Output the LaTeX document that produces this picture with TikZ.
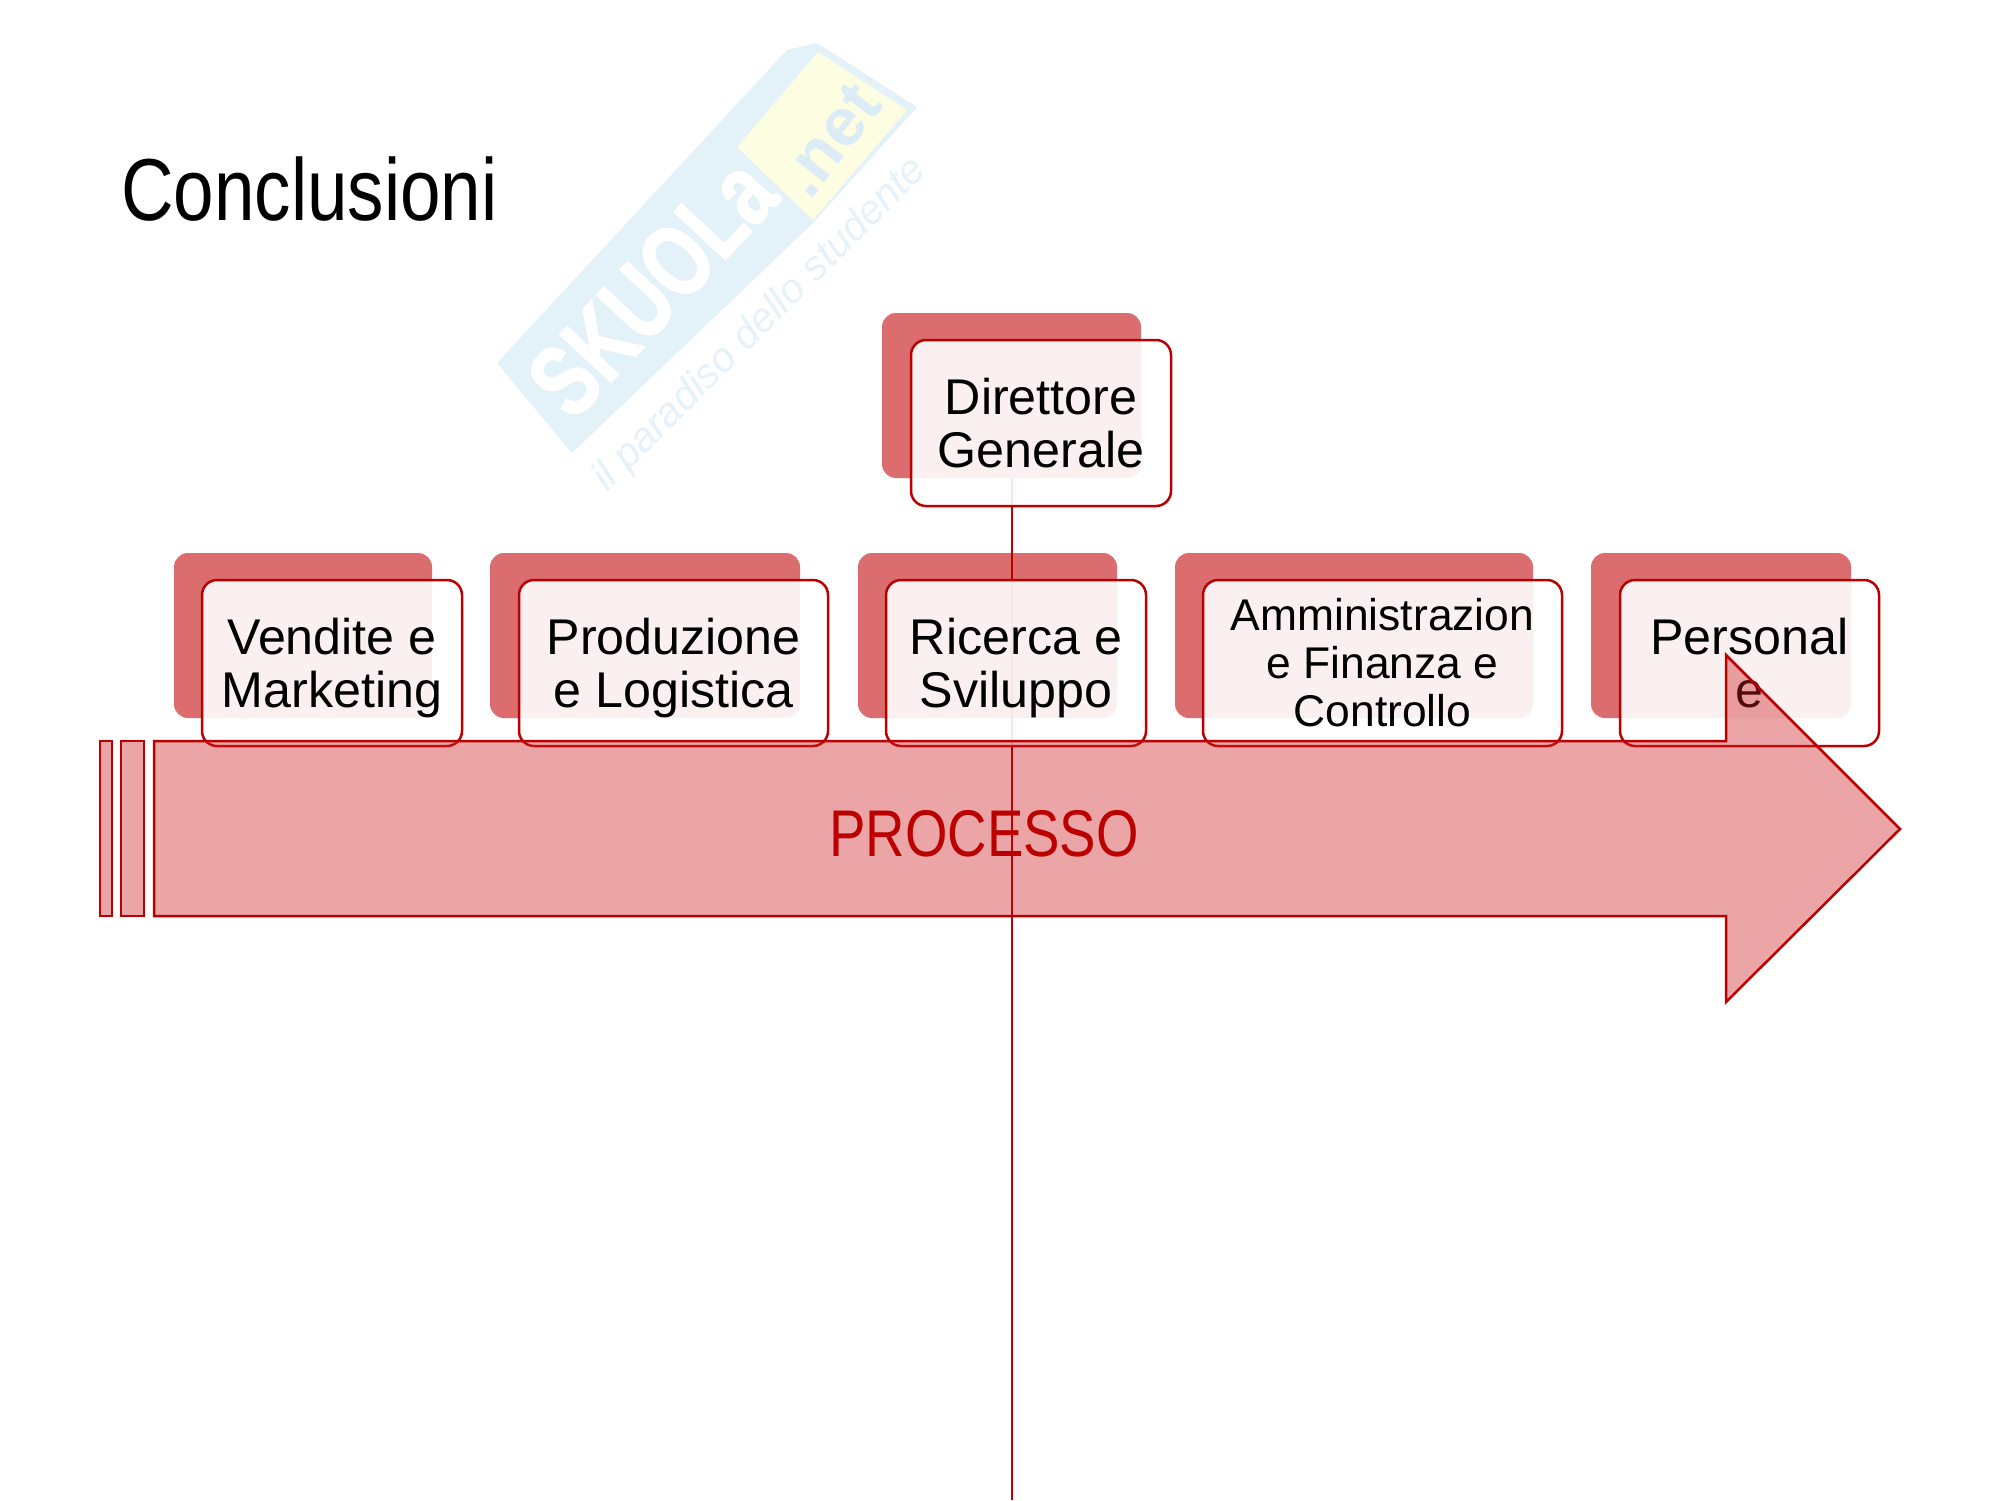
\documentclass[tikz,border=0pt]{standalone}
\usepackage{fontspec}
\setmainfont{Liberation Sans}
\newfontfamily\narrowfont[FakeStretch=0.827]{Liberation Sans}
\newfontfamily\wmfont[FakeStretch=0.74,FakeBold=1.5]{Liberation Sans}
\definecolor{rosso}{HTML}{BA0000}
\definecolor{rosa}{HTML}{DB6D6E}
\definecolor{velo}{HTML}{CF2025}
\definecolor{wmblue}{HTML}{E3F1F9}
\definecolor{wmnetblue}{HTML}{DCECF6}
\definecolor{wmyellow}{HTML}{FDFDE2}
\definecolor{wmtext}{HTML}{E6F2F8}
\tikzset{
  backbox/.style={rounded corners=14pt,fill=rosa,draw=none},
  frontbox/.style={rounded corners=15pt,draw=rosso,line width=2.5pt,fill=white,fill opacity=0.9,text opacity=1,align=center,inner sep=0pt},
  procshape/.style={fill=velo,fill opacity=0.4,draw=rosso,line width=2.5pt,line join=miter},
  vline/.style={draw=rosso,line width=2.8pt},
  big/.style={font=\fontsize{50.2}{53.5}\selectfont},
  small/.style={font=\fontsize{44.4}{48}\selectfont},
}
\begin{document}
\begin{tikzpicture}[x=1pt,y=-1pt]
\useasboundingbox (0,0) rectangle (2000,1500);
\fill[white] (0,0) rectangle (2000,1500);
% watermark
\fill[wmblue] (497,363) -- (787,50) -- (817,43) -- (917,107) -- (813,223) -- (572,453) -- cycle;
\fill[wmyellow] (737,147) -- (818,52) -- (907,110) -- (813,220) -- cycle;
\node[rotate=47,text=white,font=\wmfont\fontsize{102}{102}\selectfont\bfseries] (wmsk) at (652,287) {SKUOLa};
\node[rotate=52,text=wmnetblue,font=\fontsize{68}{68}\selectfont\bfseries] (wmnet) at (830,140) {.net};
\node[rotate=45,text=wmtext,font=\fontsize{41}{41}\selectfont\itshape] (wmsub) at (760,325) {il paradiso dello studente};
% title
\node[anchor=base west,inner sep=0pt,font=\narrowfont\fontsize{88}{88}\selectfont] (title) at (121,220.5) {Conclusioni};
% back boxes
\path[backbox] (882,313) rectangle (1141,478);
\path[backbox] (174,553) rectangle (432,718);
\path[backbox] (490,553) rectangle (800,718);
\path[backbox] (858,553) rectangle (1117,718);
\path[backbox] (1175,553) rectangle (1533,718);
\path[backbox] (1591,553) rectangle (1851,718);
% connector, under the front boxes
\coordinate (linetop) at (1012,478);
\coordinate (lineend) at (1012,1500);
\draw[vline] (linetop) -- (lineend);
% front boxes
\node[frontbox,big,minimum width=260pt,minimum height=166pt] (dg) at (1041,423) {Direttore\\Generale};
\node[frontbox,big,minimum width=260pt,minimum height=166pt] (vm) at (332,663) {Vendite e\\\smash{Marketing}\rule{0pt}{0pt}};
\node[frontbox,big,minimum width=309pt,minimum height=166pt] (pl) at (673.5,663) {Produzione\\\smash{e Logistica}};
\node[frontbox,big,minimum width=260pt,minimum height=166pt] (rs) at (1016,663) {Ricerca e\\\smash{Sviluppo}};
\node[frontbox,small,minimum width=359pt,minimum height=166pt] (af) at (1382.5,663) {Amministrazion\\e Finanza e\\Controllo};
\node[frontbox,big,minimum width=259pt,minimum height=166pt] (pe) at (1749.5,663) {Personal\\e};
% process arrow
\path[procshape] (100,741) rectangle (112,916);
\path[procshape] (121,741) rectangle (144,916);
\path[procshape] (154,741) -- (1726,741) -- (1726,655) -- (1900,829) -- (1726,1002) -- (1726,916) -- (154,916) -- cycle;
% connector over the arrow
\draw[vline] (rs.south -| linetop) -- (lineend);
\draw[vline] (dg.south -| linetop) -- (rs.north -| linetop);
\node[text=rosso,font=\narrowfont\fontsize{66}{66}\selectfont] (proc) at (984,834) {PROCESSO};
\end{tikzpicture}
\end{document}
